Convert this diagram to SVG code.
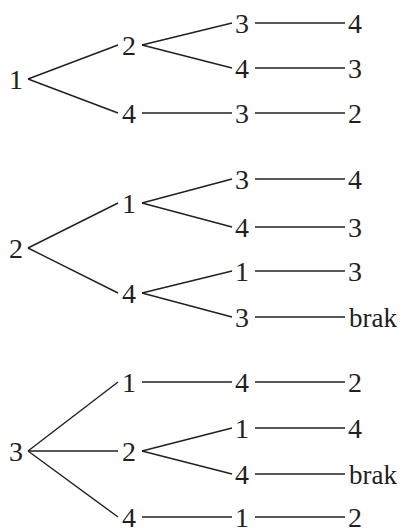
<svg xmlns="http://www.w3.org/2000/svg" width="403" height="528" viewBox="0 0 403 528">
  <style>
    text { font-family: 'Liberation Serif', 'Times New Roman', serif; font-size: 28px; fill: #231f20; }
    text.w { font-size: 27px; }
    .c { text-anchor: middle; }
    .s { text-anchor: start; }
    .edge { stroke: #231f20; stroke-width: 1.4; fill: none; }
  </style>
  <rect width="403" height="528" fill="#ffffff"/>

  <!-- connectors -->
  <g id="connectors" class="edge">
    <!-- tree 1 -->
    <line x1="28" y1="79" x2="118" y2="45"/>
    <line x1="28" y1="79" x2="118" y2="113"/>
    <line x1="142" y1="45" x2="232" y2="23"/>
    <line x1="142" y1="45" x2="232" y2="68"/>
    <line x1="142" y1="113" x2="232" y2="113"/>
    <line x1="255" y1="23" x2="345" y2="23"/>
    <line x1="255" y1="68" x2="345" y2="68"/>
    <line x1="255" y1="113" x2="345" y2="113"/>
    <!-- tree 2 -->
    <line x1="28" y1="248" x2="118" y2="203"/>
    <line x1="28" y1="248" x2="118" y2="293"/>
    <line x1="142" y1="203" x2="232" y2="179"/>
    <line x1="142" y1="203" x2="232" y2="227"/>
    <line x1="142" y1="293" x2="232" y2="271"/>
    <line x1="142" y1="293" x2="232" y2="317"/>
    <line x1="255" y1="179" x2="345" y2="179"/>
    <line x1="255" y1="227" x2="345" y2="227"/>
    <line x1="255" y1="271" x2="345" y2="271"/>
    <line x1="255" y1="317" x2="345" y2="317"/>
    <!-- tree 3 -->
    <line x1="28" y1="451" x2="118" y2="382"/>
    <line x1="28" y1="451" x2="118" y2="451"/>
    <line x1="28" y1="451" x2="118" y2="517"/>
    <line x1="142" y1="382" x2="232" y2="382"/>
    <line x1="142" y1="451" x2="232" y2="428"/>
    <line x1="142" y1="451" x2="232" y2="474"/>
    <line x1="142" y1="517" x2="232" y2="517"/>
    <line x1="255" y1="382" x2="345" y2="382"/>
    <line x1="255" y1="428" x2="345" y2="428"/>
    <line x1="255" y1="474" x2="345" y2="474"/>
    <line x1="255" y1="517" x2="345" y2="517"/>
  </g>

  <g font-family="Liberation Serif, Times New Roman, serif" font-size="28" fill="#231f20">
  <!-- tree 1 nodes -->
  <g id="t1-root"><text class="c" x="16" y="89">1</text></g>
  <g id="t1-a"><text class="c" x="129" y="55">2</text></g>
  <g id="t1-b"><text class="c" x="129" y="123">4</text></g>
  <g id="t1-aa"><text class="c" x="242" y="33">3</text></g>
  <g id="t1-ab"><text class="c" x="242" y="78">4</text></g>
  <g id="t1-ba"><text class="c" x="242" y="123">3</text></g>
  <g id="t1-aaa"><text class="s" x="348" y="33">4</text></g>
  <g id="t1-aba"><text class="s" x="348" y="78">3</text></g>
  <g id="t1-baa"><text class="s" x="348" y="123">2</text></g>

  <!-- tree 2 nodes -->
  <g id="t2-root"><text class="c" x="16" y="258">2</text></g>
  <g id="t2-a"><text class="c" x="129" y="213">1</text></g>
  <g id="t2-b"><text class="c" x="129" y="303">4</text></g>
  <g id="t2-aa"><text class="c" x="242" y="189">3</text></g>
  <g id="t2-ab"><text class="c" x="242" y="237">4</text></g>
  <g id="t2-ba"><text class="c" x="242" y="281">1</text></g>
  <g id="t2-bb"><text class="c" x="242" y="327">3</text></g>
  <g id="t2-aaa"><text class="s" x="348" y="189">4</text></g>
  <g id="t2-aba"><text class="s" x="348" y="237">3</text></g>
  <g id="t2-baa"><text class="s" x="348" y="281">3</text></g>
  <g id="t2-bba"><text class="s w" x="349" y="326.5">brak</text></g>

  <!-- tree 3 nodes -->
  <g id="t3-root"><text class="c" x="16" y="461">3</text></g>
  <g id="t3-a"><text class="c" x="129" y="392">1</text></g>
  <g id="t3-b"><text class="c" x="129" y="461">2</text></g>
  <g id="t3-c"><text class="c" x="129" y="527">4</text></g>
  <g id="t3-aa"><text class="c" x="242" y="392">4</text></g>
  <g id="t3-ba"><text class="c" x="242" y="438">1</text></g>
  <g id="t3-bb"><text class="c" x="242" y="484">4</text></g>
  <g id="t3-ca"><text class="c" x="242" y="527">1</text></g>
  <g id="t3-aaa"><text class="s" x="348" y="392">2</text></g>
  <g id="t3-baa"><text class="s" x="348" y="438">4</text></g>
  <g id="t3-bba"><text class="s w" x="349" y="483.5">brak</text></g>
  <g id="t3-caa"><text class="s" x="348" y="527">2</text></g>
  </g>
</svg>
